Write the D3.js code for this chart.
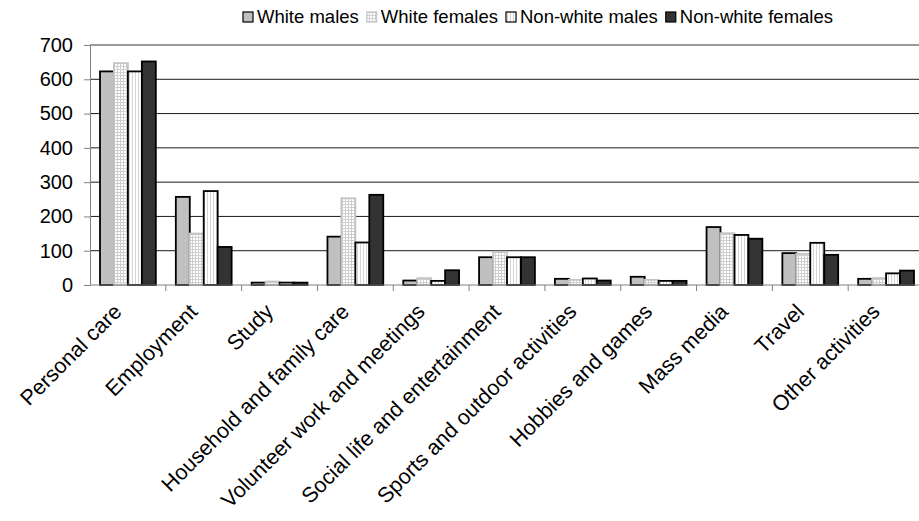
<!DOCTYPE html>
<html>
<head>
<meta charset="utf-8">
<script src="https://cdn.jsdelivr.net/npm/d3@7"></script>
<style>
  body { margin: 0; background: #fff; }
  svg { display: block; overflow: hidden; }
  text { font-family: "Liberation Sans", Arial, sans-serif; fill: #000; }
</style>
</head>
<body>
<div id="chart"></div>
<script>
// minutes per day, by activity
var categories = ["Personal care", "Employment", "Study", "Household and family care",
  "Volunteer work and meetings", "Social life and entertainment", "Sports and outdoor activities",
  "Hobbies and games", "Mass media", "Travel", "Other activities"];
var seriesNames = ["White males", "White females", "Non-white males", "Non-white females"];
var whiteMales      = [623, 257, 7, 141, 13, 81, 18, 24, 169, 93, 18];
var whiteFemales    = [647, 150, 10, 253, 20, 97, 15, 15, 151, 91, 20];
var nonWhiteMales   = [623, 274, 7, 124, 12, 81, 19, 12, 146, 123, 34];
var nonWhiteFemales = [652, 111, 7, 263, 43, 81, 13, 12, 135, 88, 42];
var yTicks = [0, 100, 200, 300, 400, 500, 600, 700];

var seriesValues = [whiteMales, whiteFemales, nonWhiteMales, nonWhiteFemales];

var width = 919, height = 521;
var margin = { left: 90, top: 45, bottom: 236 };
var plotRight = 924; // the plot runs a little past the right edge of the picture

var svg = d3.select("#chart").append("svg")
  .attr("width", width)
  .attr("height", height);

// fill patterns for the two hatched series
var defs = svg.append("defs");
var dots = defs.append("pattern").attr("id", "dots")
  .attr("patternUnits", "userSpaceOnUse").attr("width", 3).attr("height", 3);
dots.append("rect").attr("width", 3).attr("height", 3).attr("fill", "#fff");
dots.append("rect").attr("width", 3).attr("height", 1).attr("fill", "#cfcfcf");
dots.append("rect").attr("width", 1).attr("height", 3).attr("fill", "#cfcfcf");

var vlines = defs.append("pattern").attr("id", "vlines")
  .attr("patternUnits", "userSpaceOnUse").attr("width", 3).attr("height", 3);
vlines.append("rect").attr("width", 3).attr("height", 3).attr("fill", "#fff");
vlines.append("rect").attr("width", 1).attr("height", 3).attr("fill", "#d4d4d4");

var fills = ["#c0c0c0", "url(#dots)", "url(#vlines)", "#333333"];
var strokes = ["#000", "#c4c4c4", "#000", "#000"];

var x = d3.scaleBand()
  .domain(categories)
  .range([margin.left, plotRight]);

var xs = d3.scaleBand()
  .domain(d3.range(seriesNames.length))
  .range([10, x.bandwidth() - 10]);

var y = d3.scaleLinear()
  .domain([0, 700])
  .range([height - margin.bottom, margin.top]);

// grid lines
svg.append("g").selectAll("line")
  .data(yTicks.filter(function(d) { return d > 0 && d < 700; }))
  .enter().append("line")
    .attr("x1", margin.left).attr("x2", width)
    .attr("y1", function(d) { return y(d); })
    .attr("y2", function(d) { return y(d); })
    .attr("stroke", "#1a1a1a")
    .attr("stroke-width", 1);

// top border of the plot
svg.append("line")
  .attr("x1", margin.left).attr("x2", width)
  .attr("y1", y(700)).attr("y2", y(700))
  .attr("stroke", "#9a9a9a").attr("stroke-width", 2);

// bars
var groups = svg.append("g").selectAll("g")
  .data(seriesValues)
  .enter().append("g");

groups.selectAll("rect")
  .data(function(vals, s) { return vals.map(function(v, i) { return { s: s, i: i, v: v }; }); })
  .enter().append("rect")
    .attr("x", function(d) { return x(categories[d.i]) + xs(d.s); })
    .attr("y", function(d) { return y(d.v); })
    .attr("width", xs.bandwidth())
    .attr("height", function(d) { return y(0) - y(d.v); })
    .attr("fill", function(d) { return fills[d.s]; })
    .attr("stroke", function(d) { return strokes[d.s]; })
    .attr("stroke-width", 1.8);

// y axis
var yAxis = svg.append("g")
  .attr("transform", "translate(" + margin.left + ",0)")
  .call(d3.axisLeft(y).tickValues(yTicks).tickSize(6).tickPadding(11).tickSizeOuter(0));
yAxis.selectAll("text").style("font-size", "20px").style("font-family", "Liberation Sans, Arial, sans-serif");
yAxis.selectAll("line, path").attr("stroke", "#808080");

// x axis: baseline, ticks between categories, slanted labels
svg.append("line")
  .attr("x1", margin.left).attr("x2", width)
  .attr("y1", y(0)).attr("y2", y(0))
  .attr("stroke", "#808080").attr("stroke-width", 1.2);

svg.append("g").selectAll("line")
  .data(categories)
  .enter().append("line")
    .attr("x1", function(d) { return x(d) + x.bandwidth(); })
    .attr("x2", function(d) { return x(d) + x.bandwidth(); })
    .attr("y1", y(0)).attr("y2", y(0) + 6)
    .attr("stroke", "#808080");

svg.append("g").selectAll("text")
  .data(categories)
  .enter().append("text")
    .text(function(d) { return d; })
    .attr("transform", function(d) {
      return "translate(" + (x(d) + x.bandwidth() / 2 - 5) + "," + (y(0) + 28) + ") rotate(-45)";
    })
    .style("text-anchor", "end")
    .style("font-size", "21.5px");

// legend
var legend = svg.append("g").attr("transform", "translate(243,0)");
var lx = 0;
seriesNames.forEach(function(name, s) {
  legend.append("rect")
    .attr("x", lx).attr("y", 12)
    .attr("width", 10).attr("height", 10)
    .attr("fill", fills[s])
    .attr("stroke", strokes[s])
    .attr("stroke-width", 1.2);
  var t = legend.append("text")
    .attr("x", lx + 14).attr("y", 23)
    .style("font-size", "18.5px")
    .text(name);
  lx += 14 + t.node().getComputedTextLength() + 8;
});
</script>
</body>
</html>
